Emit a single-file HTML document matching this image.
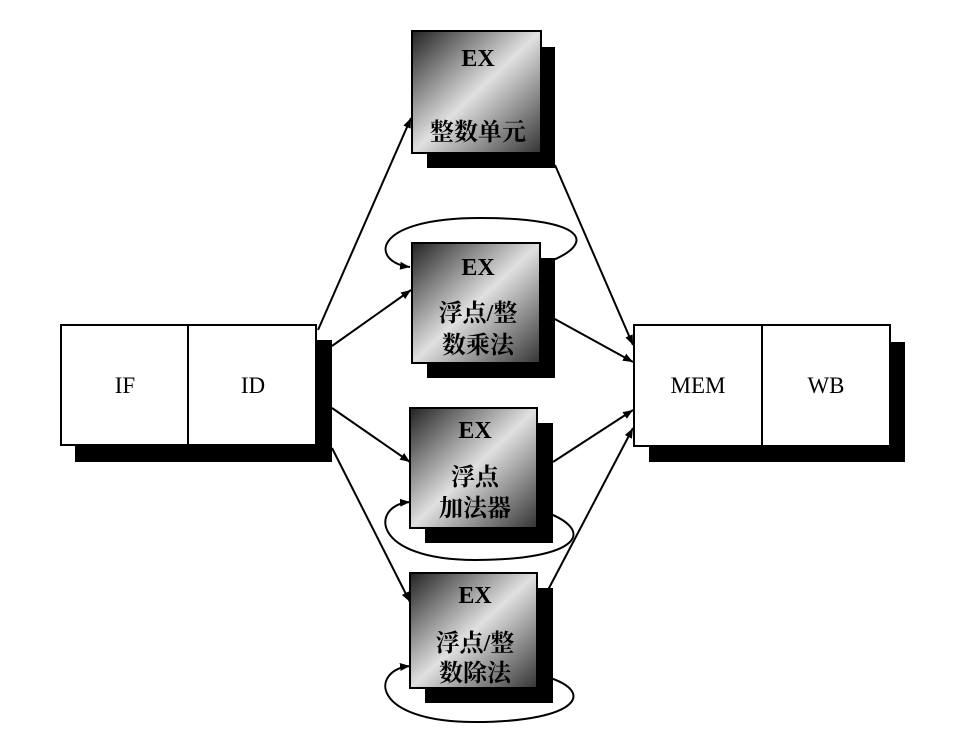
<!DOCTYPE html>
<html><head><meta charset="utf-8"><style>
html,body{margin:0;padding:0;background:#fff;}
svg{display:block;}
text{font-family:"Liberation Serif","Noto Serif CJK SC",serif;fill:#000;}
</style></head><body>
<svg width="963" height="751" viewBox="0 0 963 751" xmlns="http://www.w3.org/2000/svg">
<defs>
<linearGradient id="g" x1="0" y1="0" x2="1" y2="1">
<stop offset="0" stop-color="#222"/>
<stop offset="0.5" stop-color="#e0e0e0"/>
<stop offset="1" stop-color="#333"/>
</linearGradient>
<marker id="a" markerWidth="10" markerHeight="8" refX="10" refY="4" orient="auto" markerUnits="userSpaceOnUse">
<path d="M0,0 L10,4 L0,8 Z" fill="#000"/>
</marker>
</defs>
<g fill="none" stroke="#000" stroke-width="2">
<path d="M540,265 C600,245 590,218 480,218 C370,218 370,262 410,267" marker-end="url(#a)"/>
<path d="M540,510 C600,530 580,560 475,560 C370,560 370,505 410,502" marker-end="url(#a)"/>
<path d="M540,675 C600,690 580,722 475,722 C370,722 370,670 410,666" marker-end="url(#a)"/>
<line x1="318" y1="330" x2="411" y2="118" marker-end="url(#a)"/>
<line x1="332" y1="346" x2="411" y2="290" marker-end="url(#a)"/>
<line x1="332" y1="408" x2="410" y2="462" marker-end="url(#a)"/>
<line x1="332" y1="448" x2="410" y2="602" marker-end="url(#a)"/>
<line x1="555" y1="165" x2="633" y2="345" marker-end="url(#a)"/>
<line x1="553" y1="318" x2="633" y2="362" marker-end="url(#a)"/>
<line x1="553" y1="462" x2="633" y2="410" marker-end="url(#a)"/>
<line x1="548" y1="590" x2="633" y2="428" marker-end="url(#a)"/>
</g>
<rect x="75" y="340" width="257" height="122" fill="#000"/>
<rect x="61" y="325" width="255" height="120" fill="#fff" stroke="#000" stroke-width="2"/>
<line x1="188" y1="325" x2="188" y2="445" stroke="#000" stroke-width="2"/>
<text x="125" y="393" font-size="23" text-anchor="middle">IF</text>
<text x="253" y="393" font-size="23" text-anchor="middle">ID</text>
<rect x="649" y="342" width="256" height="120" fill="#000"/>
<rect x="634" y="325" width="256" height="121" fill="#fff" stroke="#000" stroke-width="2"/>
<line x1="762" y1="325" x2="762" y2="446" stroke="#000" stroke-width="2"/>
<text x="698" y="393" font-size="23" text-anchor="middle">MEM</text>
<text x="826" y="393" font-size="23" text-anchor="middle">WB</text>

<rect x="427" y="47" width="128" height="121" fill="#000"/>
<rect x="412" y="31" width="129" height="122" fill="url(#g)" stroke="#000" stroke-width="2"/>
<text x="478" y="66" font-size="24" text-anchor="middle" font-weight="bold">EX</text>
<text x="478" y="140" font-size="24" text-anchor="middle" font-weight="bold">整数单元</text>

<rect x="427" y="258" width="128" height="120" fill="#000"/>
<rect x="412" y="243" width="128" height="120" fill="url(#g)" stroke="#000" stroke-width="2"/>
<text x="478" y="275" font-size="24" text-anchor="middle" font-weight="bold">EX</text>
<text x="478" y="321" font-size="24" text-anchor="middle" font-weight="bold">浮点/整</text>
<text x="478" y="353" font-size="24" text-anchor="middle" font-weight="bold">数乘法</text>

<rect x="425" y="423" width="128" height="120" fill="#000"/>
<rect x="410" y="408" width="127" height="120" fill="url(#g)" stroke="#000" stroke-width="2"/>
<text x="475" y="438" font-size="24" text-anchor="middle" font-weight="bold">EX</text>
<text x="475" y="485" font-size="24" text-anchor="middle" font-weight="bold">浮点</text>
<text x="475" y="516" font-size="24" text-anchor="middle" font-weight="bold">加法器</text>

<rect x="425" y="588" width="128" height="115" fill="#000"/>
<rect x="410" y="573" width="127" height="115" fill="url(#g)" stroke="#000" stroke-width="2"/>
<text x="475" y="603" font-size="24" text-anchor="middle" font-weight="bold">EX</text>
<text x="475" y="651" font-size="24" text-anchor="middle" font-weight="bold">浮点/整</text>
<text x="475" y="681" font-size="24" text-anchor="middle" font-weight="bold">数除法</text>
</svg>
</body></html>
